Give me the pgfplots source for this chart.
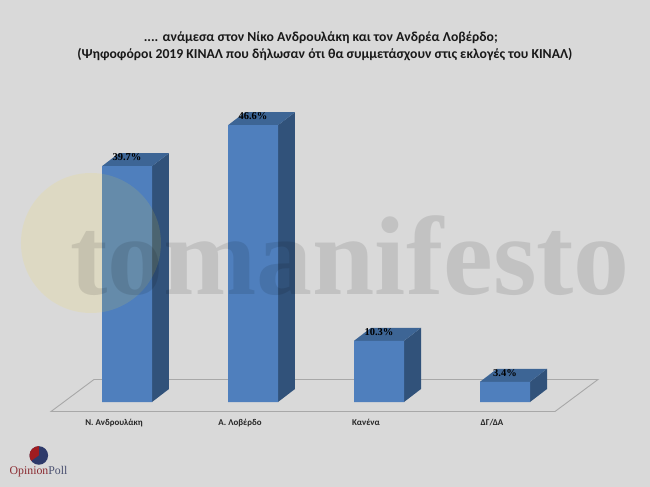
\documentclass[border=0pt]{standalone}
\usepackage{pgfplots}
\pgfplotsset{compat=1.18}
\usepackage{fontspec}
\setmainfont{Carlito}
\newfontfamily\serifwm{Liberation Serif}
\definecolor{bgc}{HTML}{D9D9D9}
\definecolor{frontc}{HTML}{4F7FBD}
\definecolor{sidec}{HTML}{31527A}
\definecolor{topc}{HTML}{3D6595}
\definecolor{floorc}{HTML}{A8A8A8}
\definecolor{logoblue}{HTML}{2E3A6A}
\definecolor{logored}{HTML}{A01C20}
\definecolor{logotxt}{HTML}{8A2A30}
\definecolor{logotxtb}{HTML}{4A5070}
\begin{document}
\begin{tikzpicture}
\begin{axis}[
  scale only axis, width=650bp, height=487bp,
  xmin=-1.00794, xmax=4.1508, ymin=-14.31, ymax=67.68,
  axis line style={draw=none}, major tick length=0pt,
  axis background/.style={fill=bgc},
  ytick=\empty,
  xtick={-0.103,0.897,1.897,2.897},
  xticklabels={Ν. Ανδρουλάκη,Α. Λοβέρδο,Κανένα,ΔΓ/ΔΑ},
  x tick label style={font=\bfseries\fontsize{8.9bp}{10bp}\selectfont, text=black!85, yshift=71bp},
  clip=false,
]
% floor
\addplot[draw=floorc, line width=0.9bp, forget plot] coordinates {(-0.603,-1.6) (3.397,-1.6) (3.738,3.79) (-0.262,3.79)} -- cycle;
% side faces
\addplot[fill=sidec, draw=none, forget plot] coordinates {(0.1984,0) (0.3333,2.189) (0.3333,41.889) (0.1984,39.7)} -- cycle;
\addplot[fill=sidec, draw=none, forget plot] coordinates {(1.1984,0) (1.3333,2.189) (1.3333,48.789) (1.1984,46.6)} -- cycle;
\addplot[fill=sidec, draw=none, forget plot] coordinates {(2.1984,0) (2.3333,2.189) (2.3333,12.489) (2.1984,10.3)} -- cycle;
\addplot[fill=sidec, draw=none, forget plot] coordinates {(3.1984,0) (3.3333,2.189) (3.3333,5.589) (3.1984,3.4)} -- cycle;
% top faces
\addplot[fill=topc, draw=none, forget plot] coordinates {(-0.1984,39.7) (0.1984,39.7) (0.3333,41.889) (-0.0635,41.889)} -- cycle;
\addplot[fill=topc, draw=none, forget plot] coordinates {(0.8016,46.6) (1.1984,46.6) (1.3333,48.789) (0.9365,48.789)} -- cycle;
\addplot[fill=topc, draw=none, forget plot] coordinates {(1.8016,10.3) (2.1984,10.3) (2.3333,12.489) (1.9365,12.489)} -- cycle;
\addplot[fill=topc, draw=none, forget plot] coordinates {(2.8016,3.4) (3.1984,3.4) (3.3333,5.589) (2.9365,5.589)} -- cycle;
% front faces
\addplot[ybar, bar width=50bp, bar shift=0pt, fill=frontc, draw=none,
  nodes near coords={\pgfmathprintnumber[fixed,fixed zerofill,precision=1,assume math mode=true]{\pgfplotspointmeta}\%},
  every node near coord/.append style={anchor=center, yshift=9bp, text=black,
    font=\serifwm\bfseries\fontsize{10.5bp}{12bp}\selectfont, inner sep=0pt},
] coordinates {(0,39.7) (1,46.6) (2,10.3) (3,3.4)};
% watermark
\fill[color={rgb,255:red,255;green,224;blue,48}, opacity=0.13] (axis cs:-0.286,26.77) circle [radius=70bp];
\node[anchor=base, opacity=0.1, text=black, inner sep=0pt, font=\serifwm\bfseries\fontsize{112bp}{112bp}\selectfont]
  at (axis cs:1.77,18.18) {tomanifesto};
% titles
\node[font=\bfseries\fontsize{13.7bp}{15bp}\selectfont, text=black!90, inner sep=0pt] at (axis cs:1.538,61.3) {.... ανάμεσα στον Νίκο Ανδρουλάκη και τον Ανδρέα Λοβέρδο;};
\node[font=\bfseries\fontsize{13.7bp}{15bp}\selectfont, text=black!90, inner sep=0pt] at (axis cs:1.570,58.45) {(Ψηφοφόροι 2019 ΚΙΝΑΛ που δήλωσαν ότι θα συμμετάσχουν στις εκλογές του ΚΙΝΑΛ)};
% logo
\fill[logoblue] (axis cs:-0.7,-9) circle [radius=9.3bp];
\fill[logored] (axis cs:-0.7,-9) -- ++(90:9.3bp) arc [start angle=90, end angle=215, radius=9.3bp] -- cycle;
\node[font=\serifwm\fontsize{11.8bp}{13bp}\selectfont, anchor=base, inner sep=0pt] at (axis cs:-0.702,-12.2) {\textcolor{logotxt}{Opinion}\textcolor{logotxtb}{Poll}};
\end{axis}
\pgfresetboundingbox
\path[use as bounding box] (0,0) rectangle (650bp,487bp);
\end{tikzpicture}
\end{document}
